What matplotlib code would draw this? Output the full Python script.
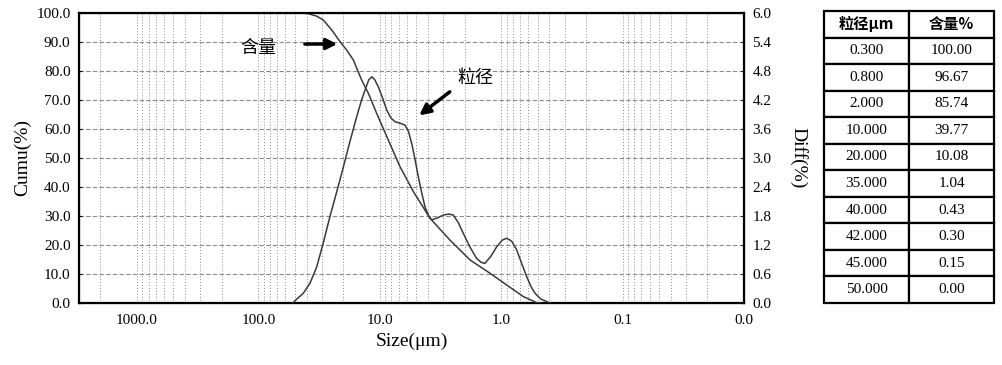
import numpy as np
import matplotlib
matplotlib.use("Agg")
import matplotlib.pyplot as plt
from matplotlib.ticker import FixedLocator, NullFormatter

plt.rcParams['font.family'] = ['Liberation Serif', 'Noto Sans CJK SC', 'DejaVu Sans']

# cumulative curve (含量), size in um vs %
cumu_size = [45.4, 39.0, 33.0, 29.2, 24.8, 21.2, 18.7, 16.5, 14.1, 12.4,
             10.6, 8.75, 6.81, 5.28, 3.85, 2.64, 1.80, 1.23, 0.90, 0.656,
             0.509, 0.47]
cumu_val = [100.0, 99.8, 98.9, 97.6, 94.1, 90.1, 87.2, 83.8, 76.9, 72.3,
            65.4, 57.4, 47.0, 38.4, 29.2, 21.7, 14.8, 10.2, 6.2, 2.2,
            0.1, 0.0]

# differential curve (粒径), size in um vs %
diff_size = [52.0, 48.3, 42.6, 37.5, 33.0, 29.2, 25.7, 22.6, 19.9, 17.6,
             15.5, 14.1, 13.2, 12.3, 11.6, 11.0, 10.3, 9.5, 8.75, 8.1,
             7.48, 6.8, 6.19, 5.8, 5.45, 5.1, 4.81, 4.5, 4.24, 3.95,
             3.73, 3.35, 2.99, 2.7, 2.48, 2.25, 2.05, 1.8, 1.59, 1.46,
             1.36, 1.22, 1.09, 0.98, 0.90, 0.82, 0.745, 0.68, 0.615, 0.565,
             0.526, 0.47, 0.421, 0.40]
diff_val = [0.0, 0.08, 0.2, 0.41, 0.75, 1.24, 1.79, 2.30, 2.82, 3.34,
            3.85, 4.20, 4.41, 4.62, 4.68, 4.62, 4.48, 4.25, 3.99, 3.83,
            3.75, 3.72, 3.68, 3.55, 3.30, 2.95, 2.61, 2.27, 1.99, 1.80,
            1.72, 1.76, 1.82, 1.84, 1.82, 1.66, 1.44, 1.15, 0.92, 0.84,
            0.82, 0.96, 1.16, 1.30, 1.34, 1.28, 1.10, 0.83, 0.54, 0.33,
            0.20, 0.08, 0.03, 0.0]

# table on the right
table_head = ["粒径μm", "含量%"]
table_size = ["0.300", "0.800", "2.000", "10.000", "20.000", "35.000",
              "40.000", "42.000", "45.000", "50.000"]
table_pct = ["100.00", "96.67", "85.74", "39.77", "10.08", "1.04",
             "0.43", "0.30", "0.15", "0.00"]

line_col = "#3a3a3a"
grid_col = "#8a8a8a"

fig = plt.figure(figsize=(10.02, 3.65), dpi=100)
ax = fig.add_axes([0.0788, 0.1699, 0.6637, 0.7945])

ax.set_xscale("log")
ax.set_xlim(3000, 0.01)
ax.set_ylim(0, 100)

majors = [1000, 100, 10, 1, 0.1, 0.01]
minors = [m * d for d in [0.01, 0.1, 1, 10, 100, 1000] for m in range(2, 10)
          if m * d <= 3000]
ax.xaxis.set_major_locator(FixedLocator(majors))
ax.set_xticklabels(["%.1f" % v for v in majors])
ax.xaxis.set_minor_locator(FixedLocator(minors))
ax.xaxis.set_minor_formatter(NullFormatter())
ax.set_yticks(np.arange(0, 101, 10))
ax.set_yticklabels(["%.1f" % v for v in np.arange(0, 101, 10)])

# grid: dotted verticals, dashed horizontals
for v in majors + minors:
    ax.axvline(v, color=grid_col, lw=0.7, ls=(0, (1, 2)), zorder=0)
for v in np.arange(10, 100, 10):
    ax.axhline(v, color=grid_col, lw=0.8, ls=(0, (4, 2)), zorder=0)

ax.tick_params(axis="x", which="both", length=0, labelsize=11, pad=8)
ax.tick_params(axis="y", length=2, direction="in", labelsize=11, pad=6)
for s in ax.spines.values():
    s.set_linewidth(1.6)

ax.plot(cumu_size, cumu_val, color=line_col, lw=1.1, zorder=3)

ax2 = ax.twinx()
ax2.set_ylim(0, 6.0)
ax2.set_yticks(np.arange(0, 6.01, 0.6))
ax2.set_yticklabels(["%.1f" % v for v in np.arange(0, 6.01, 0.6)])
ax2.tick_params(axis="y", length=2, direction="in", labelsize=11, pad=6)
ax2.plot(diff_size, diff_val, color=line_col, lw=1.1, zorder=3)

ax.set_ylabel("Cumu(%)", fontsize=14, labelpad=4)
ax.set_xlabel("Size(μm)", fontsize=14, labelpad=4)
ax2.set_ylabel("Diff(%)", fontsize=14, rotation=-90, labelpad=26)

ax.annotate("", xy=(21.2, 89.3), xytext=(43.6, 89.3),
            arrowprops=dict(arrowstyle="-|>", color="black", lw=2.5,
                            mutation_scale=16))
ax.text(100.7, 87.9, "含量", fontsize=13, ha="center", va="center",
        family=["Noto Sans CJK SC"])
ax.annotate("", xy=(4.93, 64.1), xytext=(2.54, 73.4),
            arrowprops=dict(arrowstyle="-|>", color="black", lw=2.5,
                            mutation_scale=16))
ax.text(1.64, 77.6, "粒径", fontsize=13, ha="center", va="center",
        family=["Noto Sans CJK SC"])

# table
tax = fig.add_axes([0.8224, 0.1699, 0.1697, 0.8])
tax.axis("off")
cells = [[a, b] for a, b in zip(table_size, table_pct)]
tbl = tax.table(cellText=[table_head] + cells, cellLoc="center",
                bbox=[0, 0, 1, 1])
tbl.auto_set_font_size(False)
for (r, c), cell in tbl.get_celld().items():
    cell.set_linewidth(1.6)
    cell.set_edgecolor("black")
    cell.get_text().set_fontsize(11)
    if r == 0:
        cell.get_text().set_fontweight("bold")
        cell.get_text().set_family(["Noto Sans CJK SC"])

fig.savefig("out.png", dpi=100)
